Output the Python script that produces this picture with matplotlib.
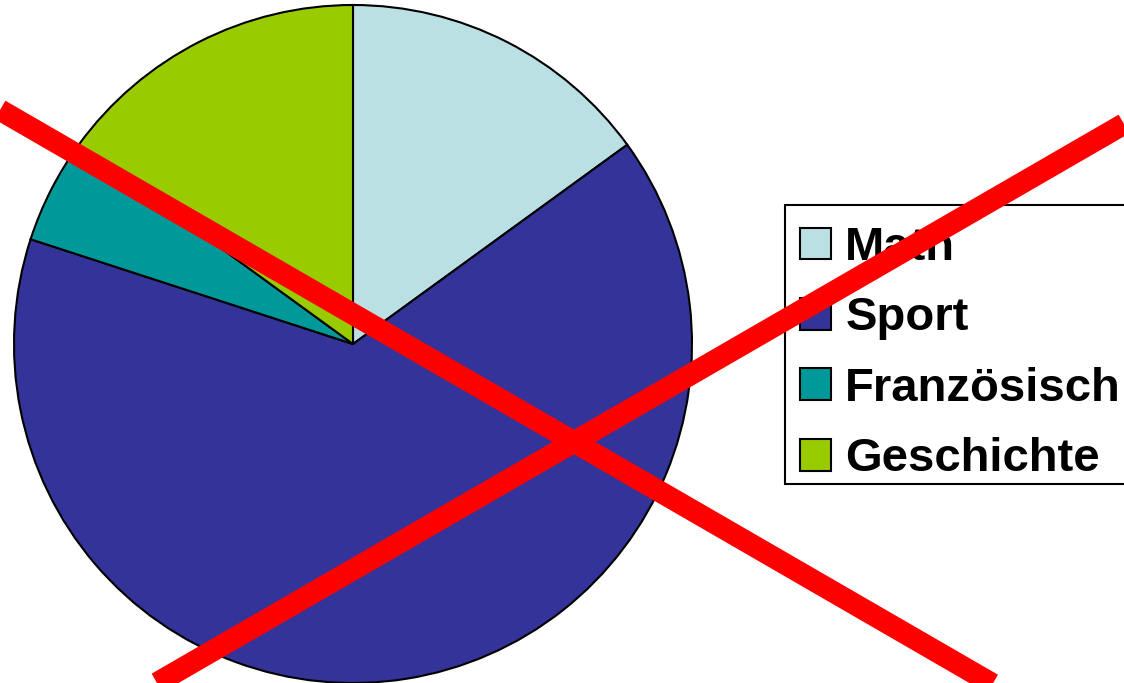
import matplotlib
matplotlib.use("Agg")
import matplotlib.pyplot as plt
from matplotlib.patches import Patch, Rectangle

plt.rcParams['font.family'] = ['Liberation Sans', 'DejaVu Sans']

subjects = ['Math', 'Sport', 'Französisch', 'Geschichte']
shares = [15, 65, 5, 15]
colors = ['#BBE0E3', '#333399', '#009999', '#99CC00']

# red cross, figure pixels (x, y from top)
cross1_x = [0, 1124]
cross1_y = [110, 760]
cross2_x = [157, 1124]
cross2_y = [683, 124]

W, H = 1124, 683
dpi = 100
fig = plt.figure(figsize=(W / dpi, H / dpi), dpi=dpi)

cx, cy, r = 353, 344, 339
ax = fig.add_axes([(cx - r) / W, (H - cy - r) / H, 2 * r / W, 2 * r / H])
wedges, _ = ax.pie(shares, colors=colors, startangle=90, counterclock=False, radius=1,
                   wedgeprops=dict(edgecolor='black', linewidth=1.5))
for w in wedges:
    w.set_clip_on(False)
ax.set_xlim(-1, 1)
ax.set_ylim(-1, 1)
ax.set_aspect('equal')
ax.axis('off')

# legend box drawn separately (pixels from top-left)
fig.patches.append(Rectangle((785 / W, (H - 484) / H), 345 / W, 279 / H,
                             transform=fig.transFigure, facecolor='white',
                             edgecolor='black', linewidth=1.5, zorder=1))

handles = [Patch(facecolor=c, edgecolor='black', linewidth=1.5) for c in colors]
leg = fig.legend(handles, subjects, loc='upper left',
                 bbox_to_anchor=(800 / W, (H - 226) / H),
                 prop=dict(weight='bold', size=34),
                 handlelength=0.66, handleheight=0.66, handletextpad=0.3,
                 borderpad=0, labelspacing=0.56, borderaxespad=0,
                 frameon=False)
leg.set_zorder(2)

over = fig.add_axes([0, 0, 1, 1], zorder=10)
over.set_xlim(0, W)
over.set_ylim(H, 0)
over.axis('off')
over.patch.set_alpha(0)
over.plot(cross1_x, cross1_y, color='#FF0000', linewidth=15.5, solid_capstyle='butt')
over.plot(cross2_x, cross2_y, color='#FF0000', linewidth=15.5, solid_capstyle='butt')

fig.savefig('out.png', dpi=dpi)
